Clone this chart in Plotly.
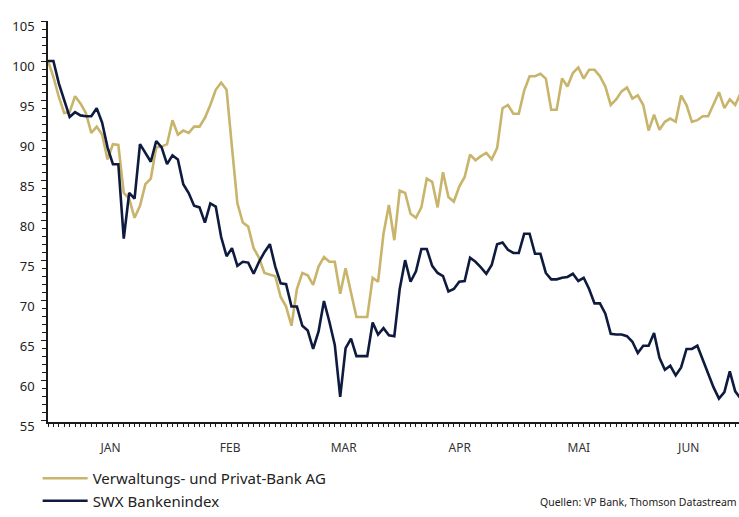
import plotly.graph_objects as go

# trading day index, first point = start value 100
vp_bank = [100, 98.0, 95.5, 93.5, 93.6, 95.6, 94.7, 93.5, 91.0, 91.8,
           90.8, 87.7, 89.6, 89.5, 83.5, 82.8, 80.4, 81.9, 84.6, 85.3,
           89.2, 89.3, 89.6, 92.6, 90.8, 91.3, 91.0, 91.8, 91.8, 92.9,
           94.5, 96.4, 97.3, 96.4, 89.2, 82.2, 79.8, 79.3, 76.6, 75.4,
           73.5, 73.3, 73.1, 70.5, 69.3, 66.9, 71.5, 73.5, 73.2, 72.0,
           74.3, 75.5, 74.9, 74.9, 70.9, 74.1, 71.1, 68.0, 68.0, 68.0,
           72.9, 72.4, 78.4, 82.0, 77.6, 83.8, 83.5, 80.9, 80.4, 81.7,
           85.3, 84.9, 81.7, 86.1, 83.0, 82.4, 84.3, 85.5, 88.3, 87.6,
           88.1, 88.5, 87.7, 89.1, 94.1, 94.5, 93.4, 93.4, 96.3, 98.1,
           98.1, 98.4, 97.8, 93.9, 93.9, 97.8, 96.8, 98.5, 99.2, 97.8,
           98.9, 98.9, 98.1, 96.8, 94.5, 95.2, 96.2, 96.7, 95.3, 95.7,
           94.5, 91.3, 93.3, 91.4, 92.4, 92.8, 92.4, 95.7, 94.5, 92.4,
           92.6, 93.1, 93.1, 94.5, 96.1, 94.1, 95.2, 94.5, 96.0]

swx_banken = [100, 100, 97.2, 95.1, 93.0, 93.6, 93.2, 93.1, 93.1, 94.1,
              92.3, 89.2, 87.1, 87.1, 77.8, 83.5, 82.8, 89.6, 88.5, 87.4,
              90.0, 89.2, 87.1, 88.2, 87.7, 84.6, 83.5, 81.9, 81.7, 79.8,
              82.2, 81.8, 78.0, 75.6, 76.6, 74.4, 74.9, 74.8, 73.4, 74.9,
              76.1, 77.1, 74.3, 72.2, 72.1, 69.3, 69.3, 66.9, 66.3, 64.0,
              66.2, 70.0, 67.4, 64.5, 58.0, 64.1, 65.3, 63.1, 63.1, 63.1,
              67.3, 65.8, 66.6, 65.7, 65.6, 71.5, 75.1, 72.4, 73.7, 76.5,
              76.5, 74.4, 73.5, 73.1, 71.2, 71.5, 72.4, 72.5, 75.4, 74.9,
              74.2, 73.4, 74.5, 77.1, 77.3, 76.4, 76.0, 76.0, 78.4, 78.4,
              75.9, 75.9, 73.5, 72.7, 72.7, 72.9, 73.0, 73.4, 72.5, 72.9,
              71.5, 69.7, 69.7, 68.4, 65.9, 65.8, 65.8, 65.6, 64.9, 63.5,
              64.4, 64.4, 66.0, 62.9, 61.4, 61.9, 60.7, 61.7, 64.0, 64.0,
              64.4, 62.6, 60.8, 59.2, 57.8, 58.6, 61.2, 58.7, 57.8]

days = list(range(len(vp_bank)))

month_names = ["JAN", "FEB", "MAR", "APR", "MAI", "JUN"]
month_starts = [0, 23.1, 44.2, 65.1, 87.1, 109.1]
x_end = 127.7
month_mids = [(a + b) / 2 for a, b in zip(month_starts, month_starts[1:] + [x_end])]

gold = "#c8b46b"
navy = "#0e1b3f"
font = "Noto Sans"

fig = go.Figure()
fig.add_trace(go.Scatter(x=days, y=vp_bank, mode="lines",
                         name="Verwaltungs- und Privat-Bank AG",
                         line=dict(color=gold, width=2.6)))
fig.add_trace(go.Scatter(x=days, y=swx_banken, mode="lines",
                         name="SWX Bankenindex",
                         line=dict(color=navy, width=2.6)))

fig.update_layout(
    width=739, height=517,
    margin=dict(l=48, r=0, t=21, b=86),
    plot_bgcolor="white", paper_bgcolor="white",
    font=dict(family=font, color="#222222"),
    showlegend=True,
    legend=dict(x=-0.015, y=-0.1, xanchor="left", yanchor="top",
                font=dict(size=15, color="#222222"),
                tracegroupgap=0, itemwidth=45),
    xaxis=dict(
        range=[0, x_end], showgrid=False, zeroline=False,
        showline=True, linecolor="#1a1a1a", linewidth=1.5,
        tickmode="array", tickvals=month_mids, ticktext=month_names,
        # invisible major ticks only push the month names down
        ticks="outside", ticklen=8, tickcolor="rgba(0,0,0,0)",
        tickfont=dict(size=12, color="#333333"), ticklabelstandoff=6,
        minor=dict(tickmode="array", tickvals=days, ticks="outside",
                   ticklen=3, tickcolor="#1a1a1a", tickwidth=1),
    ),
    xaxis2=dict(
        overlaying="x", matches="x", range=[0, x_end], side="bottom",
        showgrid=False, zeroline=False, showline=False,
        tickmode="array", tickvals=month_starts, showticklabels=False,
        ticks="outside", ticklen=10, tickcolor="#1a1a1a", tickwidth=1.5,
    ),
    yaxis=dict(
        range=[54.87, 105], showgrid=False, zeroline=False,
        showline=True, linecolor="#1a1a1a", linewidth=1.5,
        tickmode="linear", tick0=55, dtick=5,
        ticks="outside", ticklen=5, tickcolor="#1a1a1a", tickwidth=1.2,
        tickfont=dict(size=13, color="#222222"), ticklabelstandoff=4,
        ticklabelshift=5,
        minor=dict(dtick=1, ticks="outside", ticklen=4,
                   tickcolor="#1a1a1a", tickwidth=1),
    ),
)

fig.add_annotation(text="Quellen: VP Bank, Thomson Datastream",
                   xref="paper", yref="paper", x=1, y=-0.2,
                   xanchor="right", yanchor="middle", showarrow=False,
                   font=dict(size=10.5, color="#222222"))

# page has a default 8px body margin; drop it so the figure sits at 0,0
fig.write_html("out.html", config={"displayModeBar": False},
               post_script="document.body.style.margin='0';")
